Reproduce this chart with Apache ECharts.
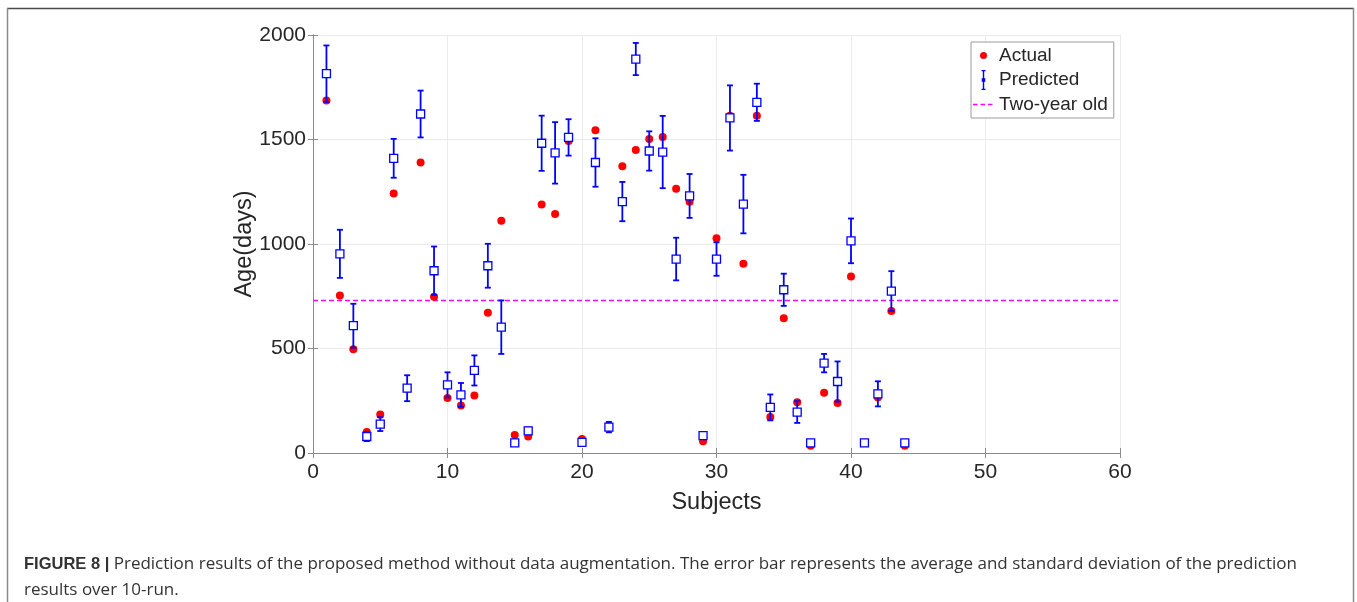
<!DOCTYPE html>
<html>
<head>
<meta charset="utf-8">
<title>Prediction results</title>
<script src="https://cdn.jsdelivr.net/npm/echarts@6/dist/echarts.min.js"></script>
<style>
  html, body { margin: 0; padding: 0; background: #fff; }
  #chart { width: 1357px; height: 602px; }
</style>
</head>
<body>
<div id="chart"></div>
<script>
// Subject index on the x axis
const subjects = [1, 2, 3, 4, 5, 6, 7, 8, 9, 10, 11, 12, 13, 14, 15, 16, 17, 18, 19, 20, 21, 22,
  23, 24, 25, 26, 27, 28, 29, 30, 31, 32, 33, 34, 35, 36, 37, 38, 39, 40, 41, 42, 43, 44];

// Actual age of each subject (days)
const actualAge = [1687, 754, 497, 100, 184, 1242, 307, 1390, 748, 263, 227, 275, 671, 1111, 86, 79,
  1189, 1144, 1493, 67, 1544, 130, 1372, 1450, 1502, 1512, 1264, 1202, 56, 1028, 1614, 906, 1614,
  172, 645, 243, 35, 288, 239, 845, 48, 266, 680, 35];

// Mean predicted age over 10 runs (days)
const predictedMean = [1815, 953, 609, 79, 138, 1410, 310, 1622, 872, 326, 278, 395, 896, 602, 48, 106,
  1482, 1436, 1510, 51, 1390, 124, 1203, 1885, 1445, 1440, 928, 1230, 83, 928, 1603, 1191, 1678,
  218, 781, 196, 48, 430, 342, 1015, 48, 283, 775, 48];

// Standard deviation of the predictions over 10 runs (days)
const predictedStd = [135, 115, 105, 22, 33, 93, 62, 112, 116, 60, 57, 72, 105, 128, 8, 16,
  132, 147, 87, 8, 116, 25, 94, 77, 94, 173, 102, 105, 10, 80, 156, 140, 89,
  62, 77, 52, 10, 44, 96, 107, 8, 60, 95, 10];

// Two-year-old reference level (days)
const twoYearDays = 730;

// Axis ranges and ticks
const xTicks = [0, 10, 20, 30, 40, 50, 60];
const yTicks = [0, 500, 1000, 1500, 2000];

const BLUE = '#0000ff';
const RED = '#ff0000';
const MAGENTA = '#ff00ff';
const FONT = '"Liberation Sans", Arial, Helvetica, sans-serif';
const CAPTION_FONT = '"Open Sans", "Liberation Sans", Arial, sans-serif';
const TEXT = '#262626';
const AXIS = '#8c8c8c';

const actualData = subjects.map((s, i) => [s, actualAge[i]]);
const predictedData = subjects.map((s, i) => [s, predictedMean[i], predictedStd[i]]);

// Error bar: stem from mean-std to mean+std, caps at both ends, open square at the mean
function renderErrorBar(params, api) {
  const x = api.value(0);
  const m = api.value(1);
  const s = api.value(2);
  const top = api.coord([x, m + s]);
  const bot = api.coord([x, m - s]);
  const c = api.coord([x, m]);
  const cap = 3;
  const half = 4;
  const lineStyle = { stroke: BLUE, lineWidth: 1.8, fill: null };
  return {
    type: 'group',
    children: [
      { type: 'line', shape: { x1: top[0], y1: top[1], x2: bot[0], y2: bot[1] }, style: lineStyle },
      { type: 'line', shape: { x1: top[0] - cap, y1: top[1], x2: top[0] + cap, y2: top[1] }, style: lineStyle },
      { type: 'line', shape: { x1: bot[0] - cap, y1: bot[1], x2: bot[0] + cap, y2: bot[1] }, style: lineStyle },
      { type: 'rect', shape: { x: c[0] - half, y: c[1] - half, width: half * 2, height: half * 2 },
        style: { stroke: BLUE, lineWidth: 1.3, fill: '#ffffff' } }
    ]
  };
}

const xMin = xTicks[0], xMax = xTicks[xTicks.length - 1], xStep = xTicks[1] - xTicks[0];
const yMin = yTicks[0], yMax = yTicks[yTicks.length - 1], yStep = yTicks[1] - yTicks[0];

const axisCommon = {
  type: 'value',
  axisLine: { show: true, lineStyle: { color: AXIS, width: 1 } },
  axisTick: { show: true, inside: true, length: 5, lineStyle: { color: AXIS } },
  axisLabel: { color: TEXT, fontSize: 21, fontFamily: FONT, formatter: (v) => String(v) },
};

const chart = echarts.init(document.getElementById('chart'), null, { renderer: 'canvas' });

chart.setOption({
  animation: false,
  backgroundColor: '#ffffff',
  grid: { left: 313, right: 237, top: 35, bottom: 149, containLabel: false },
  xAxis: [
    Object.assign({}, axisCommon, {
      min: xMin, max: xMax, interval: xStep,
      position: 'bottom',
      name: 'Subjects', nameLocation: 'middle', nameGap: 38, nameMoveOverlap: false,
      nameTextStyle: { color: TEXT, fontSize: 23.5, fontFamily: FONT },
      axisLabel: Object.assign({}, axisCommon.axisLabel, { margin: 9 }),
      splitLine: { show: true, lineStyle: { color: '#ebebeb', width: 1 } }
    }),
    Object.assign({}, axisCommon, {
      min: xMin, max: xMax, interval: xStep,
      position: 'top',
      axisLabel: { show: false },
      splitLine: { show: false }
    })
  ],
  yAxis: [
    Object.assign({}, axisCommon, {
      min: yMin, max: yMax, interval: yStep,
      position: 'left',
      name: 'Age(days)', nameLocation: 'middle', nameGap: 56, nameRotate: 90, nameMoveOverlap: false,
      nameTextStyle: { color: TEXT, fontSize: 23.5, fontFamily: FONT },
      axisLabel: Object.assign({}, axisCommon.axisLabel, { margin: 7 }),
      splitLine: { show: true, lineStyle: { color: '#ebebeb', width: 1 } }
    }),
    Object.assign({}, axisCommon, {
      min: yMin, max: yMax, interval: yStep,
      position: 'right',
      axisLabel: { show: false },
      splitLine: { show: false }
    })
  ],
  legend: {
    orient: 'vertical',
    left: 971,
    top: 42,
    padding: [3, 6, 3, 2],
    itemWidth: 21,
    itemHeight: 21,
    itemGap: 3.5,
    backgroundColor: '#ffffff',
    borderColor: '#9a9a9a',
    borderWidth: 1,
    borderRadius: 0,
    textStyle: { color: TEXT, fontSize: 19, fontFamily: FONT, lineHeight: 21 },
    data: [
      { name: 'Actual', icon: 'path://M0,0M21,21M7,10.5a3.5,3.5 0 1 0 7,0a3.5,3.5 0 1 0 -7,0z' },
      { name: 'Predicted', icon: 'path://M0,0M21,21M8.5,0.5h4v1.3h-4zM9.8,0.5h1.4v20h-1.4zM8.5,19.2h4v1.3h-4zM8.7,8.7h3.6v3.6h-3.6z' },
      { name: 'Two-year old', icon: 'path://M0,0M21,21M0,9.8h4.5v1.4h-4.5zM7.5,9.8h4.5v1.4h-4.5zM15,9.8h4.5v1.4h-4.5z' }
    ]
  },
  series: [
    {
      name: 'Actual',
      type: 'scatter',
      data: actualData,
      symbol: 'circle',
      symbolSize: 8,
      itemStyle: { color: RED, opacity: 1 },
      z: 2
    },
    {
      name: 'Predicted',
      type: 'custom',
      data: predictedData,
      renderItem: renderErrorBar,
      itemStyle: { color: BLUE },
      encode: { x: 0, y: [1] },
      z: 3
    },
    {
      name: 'Two-year old',
      type: 'line',
      data: [[xMin, twoYearDays], [xMax, twoYearDays]],
      symbol: 'none',
      lineStyle: { color: MAGENTA, width: 1.5, type: [5, 3] },
      itemStyle: { color: MAGENTA },
      z: 1
    }
  ],
  graphic: [
    // Figure frame
    { type: 'line', shape: { x1: 7, y1: 8.5, x2: 1354, y2: 8.5 }, style: { stroke: '#4a4a4a', lineWidth: 1.5 } },
    { type: 'line', shape: { x1: 7.5, y1: 8, x2: 7.5, y2: 602 }, style: { stroke: '#8a8a8a', lineWidth: 1.5 } },
    { type: 'line', shape: { x1: 1353.5, y1: 8, x2: 1353.5, y2: 602 }, style: { stroke: '#8a8a8a', lineWidth: 1.5 } },
    // Caption
    {
      type: 'text',
      left: 24,
      top: 551,
      style: {
        text: '{b|FIGURE 8 |} Prediction results of the proposed method without data augmentation. The error bar represents the average and standard deviation of the prediction\nresults over 10-run.',
        font: '17px ' + CAPTION_FONT,
        fill: '#333333',
        lineHeight: 26,
        rich: {
          b: { fontWeight: 'bold', fontSize: 16.5, fontFamily: FONT, fill: '#333333', lineHeight: 26 }
        }
      }
    }
  ]
});
</script>
</body>
</html>
